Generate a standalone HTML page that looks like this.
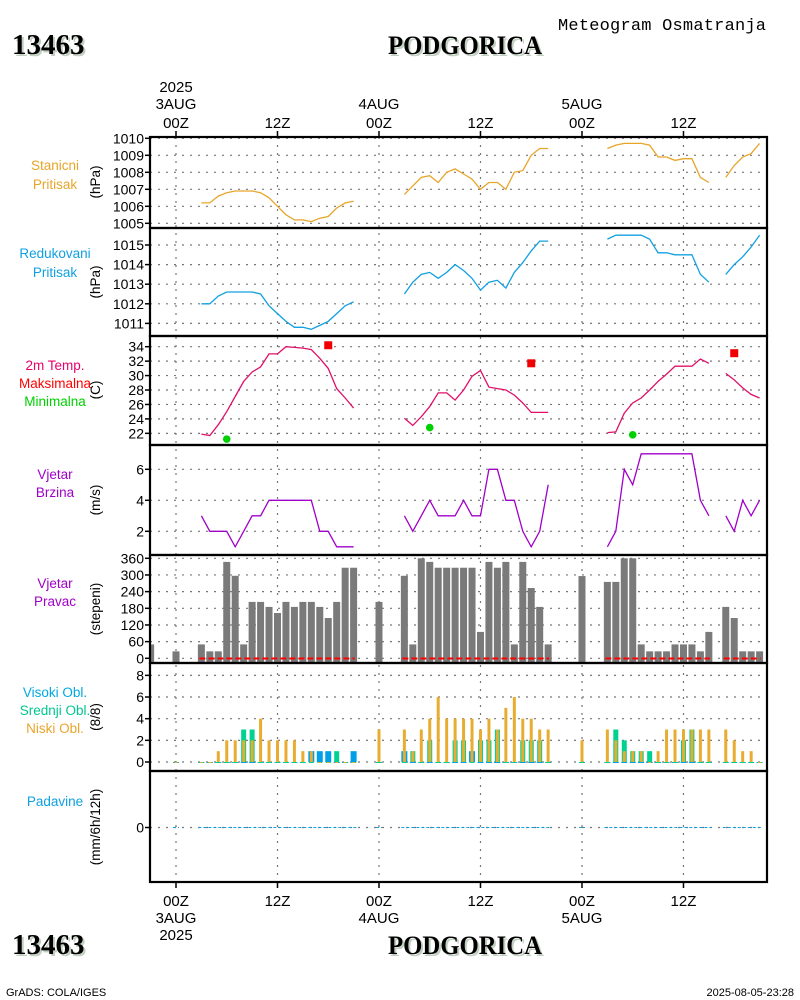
<!DOCTYPE html>
<html><head><meta charset="utf-8">
<style>
html,body{margin:0;padding:0;background:#fff;}
svg{display:block;font-family:"Liberation Sans",sans-serif;}
.t{font-size:14px;fill:#000;}
.ttl{font-family:"Liberation Serif",serif;font-weight:bold;}
</style></head>
<body>
<svg id="chart" width="800" height="1000" viewBox="0 0 800 1000">
  <g>
    <text x="558" y="30" style="font-family:'Liberation Mono',monospace;font-size:17px" textLength="208">Meteogram Osmatranja</text>
    <text x="14" y="56" class="ttl" font-size="29" fill="#c2d0c2">13463</text>
    <text x="12" y="54" class="ttl" font-size="29">13463</text>
    <text x="390" y="56" class="ttl" font-size="26" fill="#c2d0c2" textLength="154" lengthAdjust="spacingAndGlyphs">PODGORICA</text>
    <text x="388" y="54" class="ttl" font-size="26" textLength="154" lengthAdjust="spacingAndGlyphs">PODGORICA</text>
  </g>
  <g>
    <text x="14" y="956" class="ttl" font-size="29" fill="#c2d0c2">13463</text>
    <text x="12" y="954" class="ttl" font-size="29">13463</text>
    <text x="390" y="956" class="ttl" font-size="26" fill="#c2d0c2" textLength="154" lengthAdjust="spacingAndGlyphs">PODGORICA</text>
    <text x="388" y="954" class="ttl" font-size="26" textLength="154" lengthAdjust="spacingAndGlyphs">PODGORICA</text>
    <text x="6" y="996" font-size="11">GrADS: COLA/IGES</text>
    <text x="794" y="996" font-size="11" text-anchor="end">2025-08-05-23:28</text>
  </g>
  <g id="labels" font-size="13.5" text-anchor="middle">
    <text x="55" y="170" fill="#e8a52a">Stanicni</text>
    <text x="55" y="189" fill="#e8a52a">Pritisak</text>
    <text x="55" y="258" fill="#10a0e0">Redukovani</text>
    <text x="55" y="277" fill="#10a0e0">Pritisak</text>
    <text x="55" y="370" fill="#e8006e">2m Temp.</text>
    <text x="55" y="388" fill="#ff0000">Maksimalna</text>
    <text x="55" y="406" fill="#00d000">Minimalna</text>
    <text x="55" y="479" fill="#a000c8">Vjetar</text>
    <text x="55" y="497" fill="#a000c8">Brzina</text>
    <text x="55" y="588" fill="#a000c8">Vjetar</text>
    <text x="55" y="606" fill="#a000c8">Pravac</text>
    <text x="55" y="697" fill="#00a8e0">Visoki Obl.</text>
    <text x="55" y="715" fill="#00c890">Srednji Obl.</text>
    <text x="55" y="733" fill="#e8a52a">Niski Obl.</text>
    <text x="55" y="806" fill="#10a0e0">Padavine</text>
    <text transform="translate(100,182) rotate(-90)">(hPa)</text>
    <text transform="translate(100,282) rotate(-90)">(hPa)</text>
    <text transform="translate(100,390) rotate(-90)">(C)</text>
    <text transform="translate(100,500) rotate(-90)">(m/s)</text>
    <text transform="translate(100,609) rotate(-90)">(stepeni)</text>
    <text transform="translate(100,717) rotate(-90)">(8/8)</text>
    <text transform="translate(100,827) rotate(-90)">(mm/6h/12h)</text>
  </g>
  <g id="grid"></g>
  <g id="marks"></g>
  <g id="frame"></g>
  <g id="axes"></g>
</svg>
<script>
// ---------- data ----------
const lineHours = [3,4,5,6,7,8,9,10,11,12,13,14,15,16,17,18,19,20,21,22,23,24,25,26,27,28,29,30,31,32,33,34,35,36,37,38,39,40,41,42,43,44,45,46,47,48,49,50,51,52,53,54,55,56,57,58,59,60,61,62,63,64,65,66,67,68,69];
const stationPressure = [1006.2,1006.2,1006.6,1006.8,1006.9,1006.9,1006.9,1006.8,1006.5,1006.0,1005.5,1005.2,1005.2,1005.1,1005.3,1005.4,1005.9,1006.2,1006.3,null,null,null,null,null,1006.7,1007.2,1007.7,1007.8,1007.4,1008.0,1008.2,1007.9,1007.6,1007.0,1007.4,1007.4,1007.0,1008.0,1008.1,1009.0,1009.4,1009.4,null,null,null,null,null,null,1009.4,1009.6,1009.7,1009.7,1009.7,1009.6,1008.9,1008.9,1008.7,1008.8,1008.8,1007.7,1007.4,null,1007.7,1008.4,1008.9,1009.1,1009.7];
const reducedPressure = [1012.0,1012.0,1012.4,1012.6,1012.6,1012.6,1012.6,1012.5,1011.9,1011.5,1011.1,1010.8,1010.8,1010.7,1010.9,1011.1,1011.5,1011.9,1012.1,null,null,null,null,null,1012.5,1013.1,1013.5,1013.6,1013.3,1013.6,1014.0,1013.7,1013.3,1012.7,1013.1,1013.2,1012.8,1013.6,1014.1,1014.7,1015.2,1015.2,null,null,null,null,null,null,1015.3,1015.5,1015.5,1015.5,1015.5,1015.3,1014.6,1014.6,1014.5,1014.5,1014.5,1013.5,1013.1,null,1013.5,1014.0,1014.4,1014.9,1015.5];
const temperature = [21.9,21.7,23.2,25.0,27.1,29.2,30.5,31.2,33.0,33.0,34.0,33.9,33.8,33.6,32.4,31.0,28.2,26.9,25.5,null,null,null,null,null,24.1,23.1,24.3,25.7,27.6,27.6,26.6,28.0,29.9,30.7,28.4,28.2,28.0,27.3,26.2,24.9,24.9,24.9,null,null,null,null,null,null,22.1,22.2,24.8,26.2,26.9,28.0,29.2,30.2,31.3,31.3,31.3,32.3,31.7,null,30.3,29.4,28.3,27.4,26.9];
const windSpeed = [3,2,2,2,1,2,3,3,4,4,4,4,4,4,2,2,1,1,1,null,null,null,null,null,3,2,3,4,3,3,3,4,3,3,6,6,4,4,2,1,2,5,null,null,null,null,null,null,1,2,6,5,7,7,7,7,7,7,7,4,3,null,3,2,4,3,4];
const maxHours = [18,42,66];
const maxTemp = [34.2,31.7,33.1];
const minHours = [6,30,54];
const minTemp = [21.2,22.8,21.8];
const dirHours = [-3,0,3,4,5,6,7,8,9,10,11,12,13,14,15,16,17,18,19,20,21,24,27,28,29,30,31,32,33,34,35,36,37,38,39,40,41,42,43,44,48,51,52,53,54,55,56,57,58,59,60,61,62,63,65,66,67,68,69];
const windDir = [50,25,50,25,25,347,297,50,203,203,185,163,203,185,203,203,185,145,203,326,326,203,297,50,360,347,326,326,326,326,326,95,347,326,347,50,347,253,185,50,296,275,275,360,360,50,25,25,25,50,50,50,25,95,185,145,25,25,25];
const cloudHours = [0,3,4,5,6,7,8,9,10,11,12,13,14,15,16,17,18,19,20,21,24,27,28,29,30,31,32,33,34,35,36,37,38,39,40,41,42,43,44,48,51,52,53,54,55,56,57,58,59,60,61,62,63,65,66,67,68,69];
const lowCloud = [0,0,0,1,2,2,2,2,4,2,2,2,2,1,1,0,0,0,0,0,3,3,1,3,4,6,4,4,4,4,3,4,3,5,6,4,4,3,3,2,3,2,1,1,1,0,1,3,3,3,3,3,3,3,2,1,1,0];
const midCloud = [0,0,0,0,0,0,3,3,0,0,0,0,0,0,0,0,0,1,0,0,0,0,1,0,2,0,0,2,2,0,2,2,3,0,0,2,2,2,0,0,0,3,2,1,1,1,0,0,0,2,3,0,0,0,0,0,0,0];
const highCloud = [0,0,0,0,0,0,0,0,0,0,0,0,0,0,1,1,1,0,0,1,0,1,0,0,0,0,0,0,0,1,0,0,0,0,0,0,0,0,0,0,0,0,0,0,0,0,0,0,0,0,0,0,0,0,0,0,0,0];
const precipSegments = [[0,0],[3,21],[24,24],[27,44],[48,48],[51,63],[65,69]];
const timeTicks = [0,12,24,36,48,60];
const topTickLabels = ["00Z","12Z","00Z","12Z","00Z","12Z"];
const p1Ticks = [1005,1006,1007,1008,1009,1010];
const p2Ticks = [1011,1012,1013,1014,1015];
const tTicks = [22,24,26,28,30,32,34];
const wsTicks = [2,4,6];
const wdTicks = [0,60,120,180,240,300,360];
const clTicks = [0,2,4,6,8];

// ---------- scales ----------
const X0=150, X1=767;
const xS = h => 176 + h*8.458;
const yP1 = v => 138.3 + (1010-v)*17;
const yP2 = v => 245 + (1015-v)*19.6;
const yT = v => 346.7 + (34-v)*7.22;
const yWS = v => 469.3 + (6-v)*15.5;
const yWD = v => 658.3 - v*0.2778;
const yCL = v => 762 - v*10.83;
const yPR = v => 827.5 - v*10;
const panels = [[137,228],[228,336],[336,445],[445,555],[555,663],[663,771],[771,882]];
const NS='http://www.w3.org/2000/svg';
function mk(tag, attrs, parent){const e=document.createElementNS(NS,tag);for(const k in attrs)e.setAttribute(k,attrs[k]);parent.appendChild(e);return e;}
const grid=document.getElementById('grid'), marks=document.getElementById('marks'), frame=document.getElementById('frame'), axes=document.getElementById('axes');

function yAxis(ticks, sc, name){
  ticks.forEach(v=>{
    const y=sc(v);
    const g=mk('line',{x1:X0,x2:X1,y1:y,y2:y,stroke:'#777','stroke-width':1.2,'stroke-dasharray':'2,6'},grid);
    
    
    const tk=mk('line',{x1:X0-5,x2:X0,y1:y,y2:y,stroke:'#000','stroke-width':1.5},axes);
    
    
    const t=mk('text',{x:X0-6,y:y+5,'text-anchor':'end','font-size':14},axes);
    t.textContent=v;
    
    
  });
}
yAxis(p1Ticks,yP1,'station-pressure-y');
yAxis(p2Ticks,yP2,'reduced-pressure-y');
yAxis(tTicks,yT,'temp-y');
yAxis(wsTicks,yWS,'wind-speed-y');
yAxis(wdTicks,yWD,'wind-dir-y');
yAxis(clTicks,yCL,'cloud-y');
yAxis([0],yPR,'precip-y');

timeTicks.forEach(h=>{
  const x=xS(h);
  const v=mk('line',{x1:x,x2:x,y1:137,y2:882,stroke:'#777','stroke-width':1.2,'stroke-dasharray':'2,6'},grid);
  
  
  const a=mk('line',{x1:x,x2:x,y1:131,y2:137,stroke:'#000','stroke-width':1.5},axes);
  
  
  const b=mk('line',{x1:x,x2:x,y1:882,y2:888,stroke:'#000','stroke-width':1.5},axes);
  
  
});
function lbl(x,y,s,name){const t=mk('text',{x:x,y:y,'text-anchor':'middle','font-size':15},axes);t.textContent=s;
  
  }
timeTicks.forEach((h,i)=>{lbl(xS(h),128,topTickLabels[i],'top-time-label');lbl(xS(h),906,topTickLabels[i],'bottom-time-label');});
lbl(xS(0),92,'2025','top-year-label');lbl(xS(0),109,'3AUG','top-date-label');
lbl(xS(24),109,'4AUG','top-date-label');lbl(xS(48),109,'5AUG','top-date-label');
lbl(xS(0),923,'3AUG','bottom-date-label');lbl(xS(0),940,'2025','bottom-year-label');
lbl(xS(24),923,'4AUG','bottom-date-label');lbl(xS(48),923,'5AUG','bottom-date-label');

const defs=mk('defs',{},document.getElementById('chart'));
const cp=mk('clipPath',{id:'plotclip'},defs);
mk('rect',{x:X0,y:137,width:X1-X0,height:745},cp);
marks.setAttribute('clip-path','url(#plotclip)');

function drawLine(vals, sc, color, name){
  let d='', pen=false;
  lineHours.forEach((h,i)=>{const v=vals[i];
    if(v===null){pen=false;return;}
    d+=(pen?'L':'M')+xS(h).toFixed(1)+','+sc(v).toFixed(1);pen=true;});
  const p=mk('path',{d:d,fill:'none',stroke:color,'stroke-width':1.3},marks);
  
  
}
drawLine(stationPressure,yP1,'#e8a52a','station-pressure-line');
drawLine(reducedPressure,yP2,'#10a0e0','reduced-pressure-line');
drawLine(temperature,yT,'#e0106a','temperature-line');
drawLine(windSpeed,yWS,'#a000c8','wind-speed-line');

maxHours.forEach((h,i)=>{const r=mk('rect',{x:xS(h)-4,y:yT(maxTemp[i])-4,width:8,height:8,fill:'#f00000'},marks);
  
  });
minHours.forEach((h,i)=>{const c=mk('circle',{cx:xS(h),cy:yT(minTemp[i]),r:3.8,fill:'#00d000'},marks);
  
  });

dirHours.forEach((h,i)=>{const y=yWD(windDir[i]);
  const r=mk('rect',{x:xS(h)-3.5,y:y,width:7,height:663-y,fill:'#7a7a7a'},marks);
  
  });
[[3,21],[27,44],[51,63],[65,69]].forEach(s=>{
  const l=mk('line',{x1:xS(s[0])-2,x2:xS(s[1])+1,y1:658.5,y2:658.5,stroke:'#ff0000','stroke-width':2,'stroke-dasharray':'6,3'},marks);
  
  });

cloudHours.forEach((h,i)=>{
  const x=xS(h);
  const b0=yCL(0);
  const hb=mk('rect',{x:x-3,y:yCL(highCloud[i]),width:6,height:Math.max(1,b0-yCL(highCloud[i])),fill:'#00a0e8'},marks);
  
  
  const mb=mk('rect',{x:x-2.5,y:yCL(midCloud[i]),width:5,height:Math.max(1,b0-yCL(midCloud[i])),fill:'#00d090'},marks);
  
  
  const lb=mk('rect',{x:x-1.5,y:yCL(lowCloud[i]),width:3,height:Math.max(1,b0-yCL(lowCloud[i])),fill:'#e8ad30'},marks);
  
  
});

precipSegments.forEach(s=>{
  const l=mk('line',{x1:xS(s[0])-3,x2:xS(s[1])+3,y1:yPR(0),y2:yPR(0),stroke:'#10a0e0','stroke-width':1,'stroke-dasharray':'3,2'},marks);
  
  });

panels.forEach((p,i)=>{const r=mk('rect',{x:X0,y:p[0],width:X1-X0,height:p[1]-p[0],fill:'none',stroke:'#000','stroke-width':2.2},frame);
  
  });
</script>
</body></html>
